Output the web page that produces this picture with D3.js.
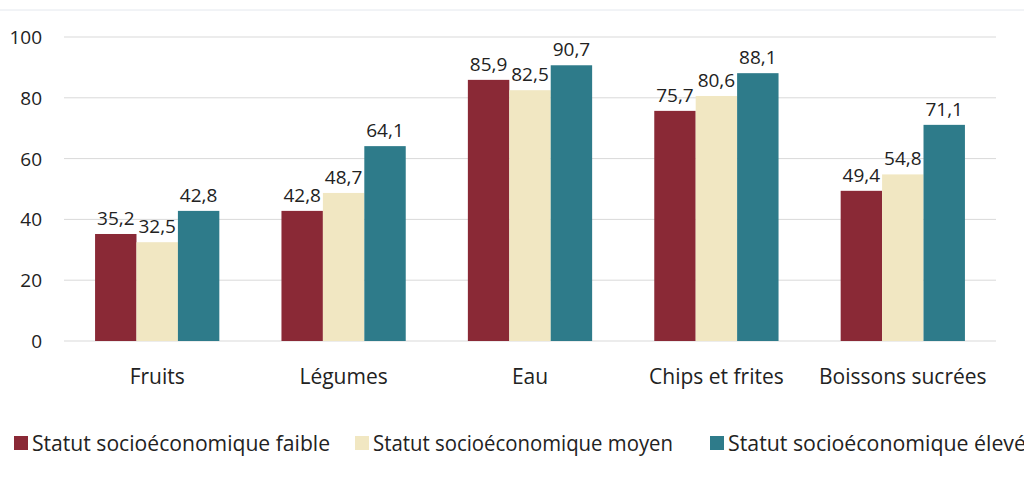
<!DOCTYPE html>
<html><head><meta charset="utf-8">
<script src="https://cdn.jsdelivr.net/npm/d3@7.9.0/dist/d3.min.js"></script>
<style>body{margin:0;background:#fff}svg{font-family:"Open Sans","DejaVu Sans",sans-serif}</style>
</head><body><svg id="chart" width="1024" height="486"></svg>
<script>
const categories = ['Fruits', 'Légumes', 'Eau', 'Chips et frites', 'Boissons sucrées'];
const series = ['Statut socioéconomique faible', 'Statut socioéconomique moyen', 'Statut socioéconomique élevé'];
const faible = [35.2, 42.8, 85.9, 75.7, 49.4];
const moyen = [32.5, 48.7, 82.5, 80.6, 54.8];
const eleve = [42.8, 64.1, 90.7, 88.1, 71.1];
const yTicks = [0, 20, 40, 60, 80, 100];
const colors = ['#8a2936', '#f1e7c2', '#2e7b8a'];

const values = [faible, moyen, eleve];
const svg = d3.select('#chart');
const x = d3.scaleBand().domain(categories).range([64, 996]);
const xs = d3.scaleBand().domain(d3.range(3)).range([0, x.bandwidth()]).paddingInner(0).paddingOuter(0.75);
const y = d3.scaleLinear().domain([0, 100]).range([341, 37]);

svg.append('line').attr('x1', 0).attr('x2', 1024).attr('y1', 10).attr('y2', 10).attr('stroke', '#e4e8ee');

svg.selectAll('.grid').data(yTicks).join('line')
  .attr('x1', 64).attr('x2', 996)
  .attr('y1', d => y(d)).attr('y2', d => y(d))
  .attr('stroke', '#d9d9d9');

svg.selectAll('.yl').data(yTicks).join('text')
  .attr('x', 42).attr('y', d => y(d) + 7).attr('text-anchor', 'end')
  .attr('font-size', 19).attr('fill', '#222').text(d => d);

values.forEach((vals, s) => {
  const g = svg.append('g');
  g.selectAll('rect').data(categories).join('rect')
    .attr('x', (c) => x(c) + xs(s)).attr('width', xs.bandwidth())
    .attr('y', (c, i) => y(vals[i])).attr('height', (c, i) => y(0) - y(vals[i]))
    .attr('fill', colors[s]);
  g.selectAll('text').data(categories).join('text')
    .attr('x', c => x(c) + xs(s) + xs.bandwidth() / 2)
    .attr('y', (c, i) => y(vals[i]) - 9)
    .attr('text-anchor', 'middle').attr('font-size', 19).attr('fill', '#222')
    .text((c, i) => String(vals[i]).replace('.', ','));
});

svg.selectAll('.xl').data(categories).join('text')
  .attr('x', c => x(c) + x.bandwidth() / 2).attr('y', 384)
  .attr('text-anchor', 'middle').attr('font-size', 21).attr('fill', '#222').text(c => c);

const lx = [14, 355, 710];
series.forEach((s, i) => {
  svg.append('rect').attr('x', lx[i]).attr('y', 436).attr('width', 14).attr('height', 14).attr('fill', colors[i]);
  svg.append('text').attr('x', lx[i] + 18).attr('y', 451).attr('font-size', 21).attr('fill', '#222')
    .attr('textLength', [298, 300, 298][i]).attr('lengthAdjust', 'spacingAndGlyphs').text(s);
});
</script></body></html>
